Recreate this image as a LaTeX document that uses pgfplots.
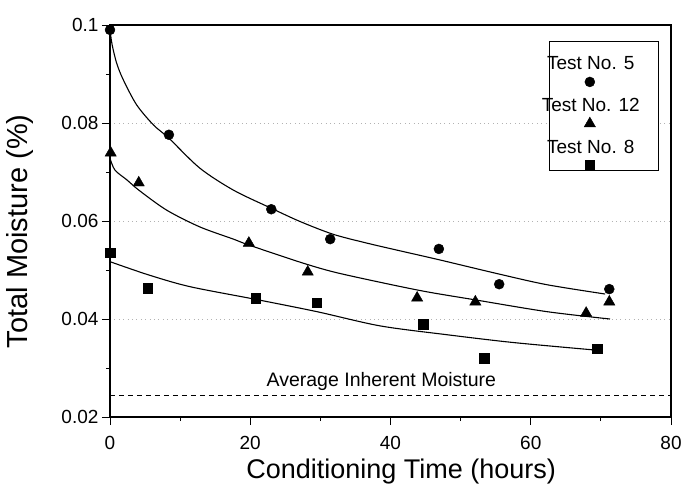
\documentclass[border=0pt]{standalone}
\usepackage{fontspec}
\setmainfont{Liberation Sans}
\usepackage{pgfplots}
\pgfplotsset{compat=1.18}
\begin{document}
\begin{tikzpicture}
\useasboundingbox (-110pt,-78pt) rectangle (575pt,417pt);
\begin{axis}[
  scale only axis, width=561pt, height=392pt,
  at={(0,0)}, anchor=south west,
  xmin=0, xmax=80, ymin=0.02, ymax=0.1,
  xtick={0,20,40,60,80}, minor xtick={10,30,50,70},
  ytick={0.02,0.04,0.06,0.08,0.1},
  yticklabels={0.02,0.04,0.06,0.08,0.1},
  minor ytick={0.03,0.05,0.07,0.09},
  tick pos=left, tick align=outside,
  major tick length=8pt, minor tick length=4pt,
  every tick/.style={black, line width=0.8pt},
  axis line style={line width=1.1pt},
  ymajorgrids, grid style={loosely dotted, gray!60, line width=0.6pt},
  /pgf/number format/assume math mode=true,
  ticklabel style={font=\fontsize{19}{22}\selectfont},
  xticklabel style={yshift=-8pt},
  xlabel={Conditioning Time (hours)},
  ylabel={Total Moisture (\%)},
  xlabel style={font=\fontsize{27}{32}\selectfont, at={(axis description cs:0.519,-0.138)}, anchor=center},
  ylabel style={font=\fontsize{29}{34}\selectfont, at={(axis description cs:-0.16,0.474)}, rotate=0, anchor=center},
  clip=false,
  legend image code/.code={\draw[#1, overlay] plot coordinates {(50pt,-18pt)};},
  legend style={draw=none, fill=none, at={(axis description cs:0.857,0.930)}, anchor=north,
    font=\fontsize{19}{22}\selectfont, cells={anchor=center}, row sep=23pt},
]
\draw[line width=0.8pt, fill=white] (axis description cs:0.7825,0.957) rectangle (axis description cs:0.977,0.630);
% fitted curves
\addplot[black, line width=1.1pt, smooth, forget plot] coordinates {
(0,0.0990) (0.3,0.0960) (0.95,0.0922) (1.9,0.0888) (3.8,0.0837) (6.2,0.0796) (8.4,0.0769)
(12.8,0.0708) (17.6,0.0663) (23.0,0.0626) (27.1,0.0599) (31.8,0.0573) (36.6,0.0555)
(41.4,0.0539) (46.9,0.0521) (55.4,0.0492) (62.3,0.0470) (70.6,0.0451)};
\addplot[black, line width=1.1pt, smooth, forget plot] coordinates {
(0,0.0728) (0.7,0.0704) (2.4,0.0684) (4.2,0.0662) (8.1,0.0622) (12.8,0.0588) (17.6,0.0563)
(19.8,0.0551) (27.1,0.0516) (31.9,0.0496) (38.5,0.0475) (45.0,0.0456) (52.1,0.0439)
(62.3,0.0415) (71.3,0.0400)};
\addplot[black, line width=1.1pt, smooth, forget plot] coordinates {
(0,0.0517) (5.5,0.0490) (11.4,0.0466) (20.8,0.0440) (29.5,0.0415) (38.5,0.0386)
(48.0,0.0368) (57.5,0.0352) (68.9,0.0337)};
% inherent moisture
\addplot[black, line width=0.9pt, dash pattern=on 5pt off 4pt, forget plot] coordinates {(0,0.0245) (80,0.0245)};
\node[anchor=base, font=\fontsize{19.5}{22}\selectfont] at (axis cs:38.7,0.0263) {Average Inherent Moisture};
% data
\addplot[only marks, mark=*, mark size=5pt, black] coordinates {
(0,0.0990) (8.4,0.0776) (23.0,0.0624) (31.4,0.0563) (46.9,0.0543) (55.5,0.0471) (71.2,0.0461)};
\addlegendentry{Test No. 5}
\addplot[only marks, mark=triangle*, mark size=6.5pt, black] coordinates {
(0.1,0.0739) (4.1,0.0678) (19.8,0.0555) (28.2,0.0496) (43.8,0.0443) (52.1,0.0435) (67.9,0.0412) (71.2,0.0435)};
\addlegendentry{Test No. 12}
\addplot[only marks, mark=square*, mark size=4.8pt, black] coordinates {
(0,0.0535) (5.4,0.0463) (20.8,0.0443) (29.5,0.0433) (44.7,0.0390) (53.4,0.0320) (69.5,0.0339)};
\addlegendentry{Test No. 8}
\end{axis}
\end{tikzpicture}
\end{document}
